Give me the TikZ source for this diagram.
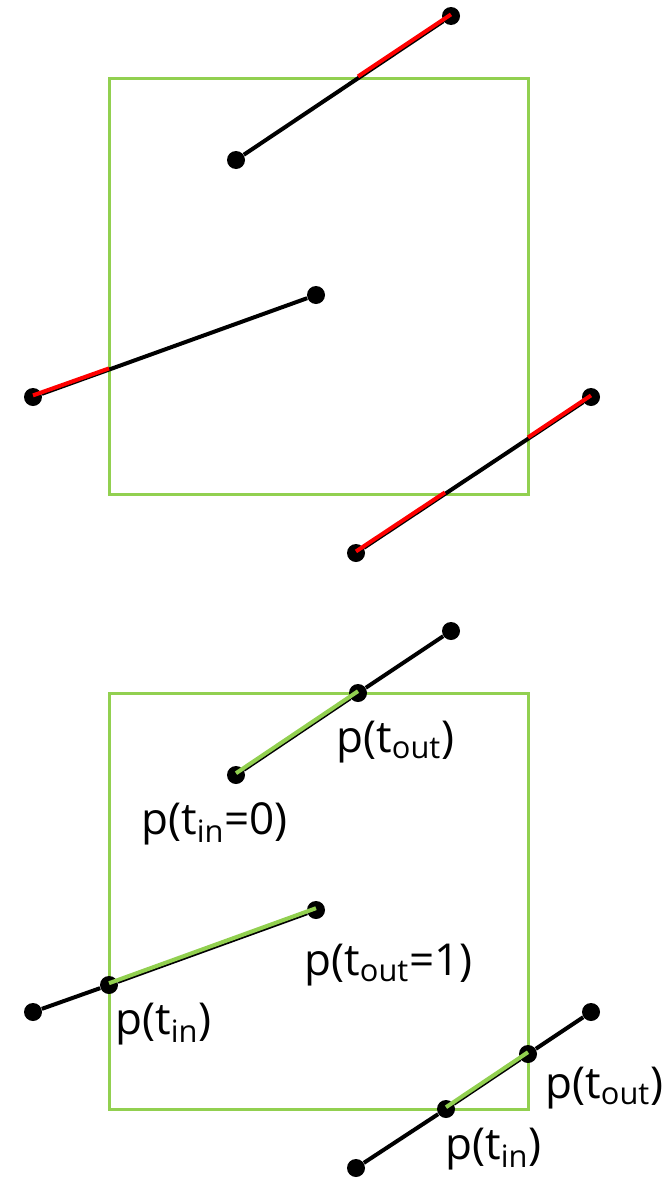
\documentclass[tikz,border=0pt]{standalone}
\usepackage{fontspec}
\setmainfont{Open Sans}
\usepackage{xcolor}
\usepackage{tikz}
\usetikzlibrary{positioning}
\definecolor{wingreen}{RGB}{146,208,80}
\tikzstyle{window} = [draw=wingreen, line width=1.5pt]
\tikzstyle{dot} = [circle, fill=black, inner sep=0pt, minimum size=9pt]
\tikzstyle{seg} = [draw=black, line width=2pt]
\tikzstyle{cut} = [draw=red, line width=2pt, transform canvas={yshift=0.8pt}]
\tikzstyle{keep} = [draw=wingreen, line width=2pt, transform canvas={yshift=0.9pt}]
\tikzstyle{lbl} = [font=\fontsize{22}{26}\selectfont, inner sep=0pt, anchor=base west]

\begin{document}
\begin{tikzpicture}[x=0.5pt, y=-0.5pt]
    \useasboundingbox (0,0) rectangle (667,1178);

    % top: segments against the window
    \draw [window] (109,78) rectangle (528,494);
    \node (a1) [dot] at (236,160) {};
    \node (b1) [dot] at (451,16) {};
    \node (a2) [dot] at (33,397) {};
    \node (b2) [dot] at (316,295) {};
    \node (a3) [dot] at (356,553) {};
    \node (b3) [dot] at (591,397) {};
    \coordinate (c1) at (358,78);
    \coordinate (c2) at (109,370);
    \coordinate (c3) at (445,494);
    \coordinate (c4) at (528,439);

    \draw [seg] (a1) -- (b1);
    \draw [seg] (a2) -- (b2);
    \draw [seg] (a3) -- (b3);
    \draw [cut] (c1) -- (b1.center);
    \draw [cut] (a2.center) -- (c2);
    \draw [cut] (a3.center) -- (c3);
    \draw [cut] (c4) -- (b3.center);

    % bottom: clipped parts
    \draw [window] (109,693) rectangle (528,1109);
    \node (p1) [dot] at (236,775) {};
    \node (q1) [dot] at (451,631) {};
    \node (m1) [dot] at (358,693) {};
    \node (p2) [dot] at (33,1012) {};
    \node (q2) [dot] at (316,910) {};
    \node (m2) [dot] at (109,985) {};
    \node (p3) [dot] at (356,1168) {};
    \node (q3) [dot] at (591,1012) {};
    \node (m3) [dot] at (446,1109) {};
    \node (m4) [dot] at (528,1054) {};

    \draw [seg] (p1) -- (m1);
    \draw [seg] (m1) -- (q1);
    \draw [seg] (p2) -- (m2);
    \draw [seg] (m2) -- (q2);
    \draw [seg] (p3) -- (m3);
    \draw [seg] (m3) -- (m4);
    \draw [seg] (m4) -- (q3);
    \draw [keep] (p1.center) -- (m1.center);
    \draw [keep] (m2.center) -- (q2.center);
    \draw [keep] (m3.center) -- (m4.center);

    \node [lbl] at (336,752) {p(t\textsubscript{out})};
    \node [lbl] at (141,834) {p(t\textsubscript{in}=0)};
    \node [lbl] at (304,975) {p(t\textsubscript{out}=1)};
    \node [lbl] at (115,1034) {p(t\textsubscript{in})};
    \node [lbl] at (545,1098) {p(t\textsubscript{out})};
    \node [lbl] at (445,1159) {p(t\textsubscript{in})};
\end{tikzpicture}
\end{document}
